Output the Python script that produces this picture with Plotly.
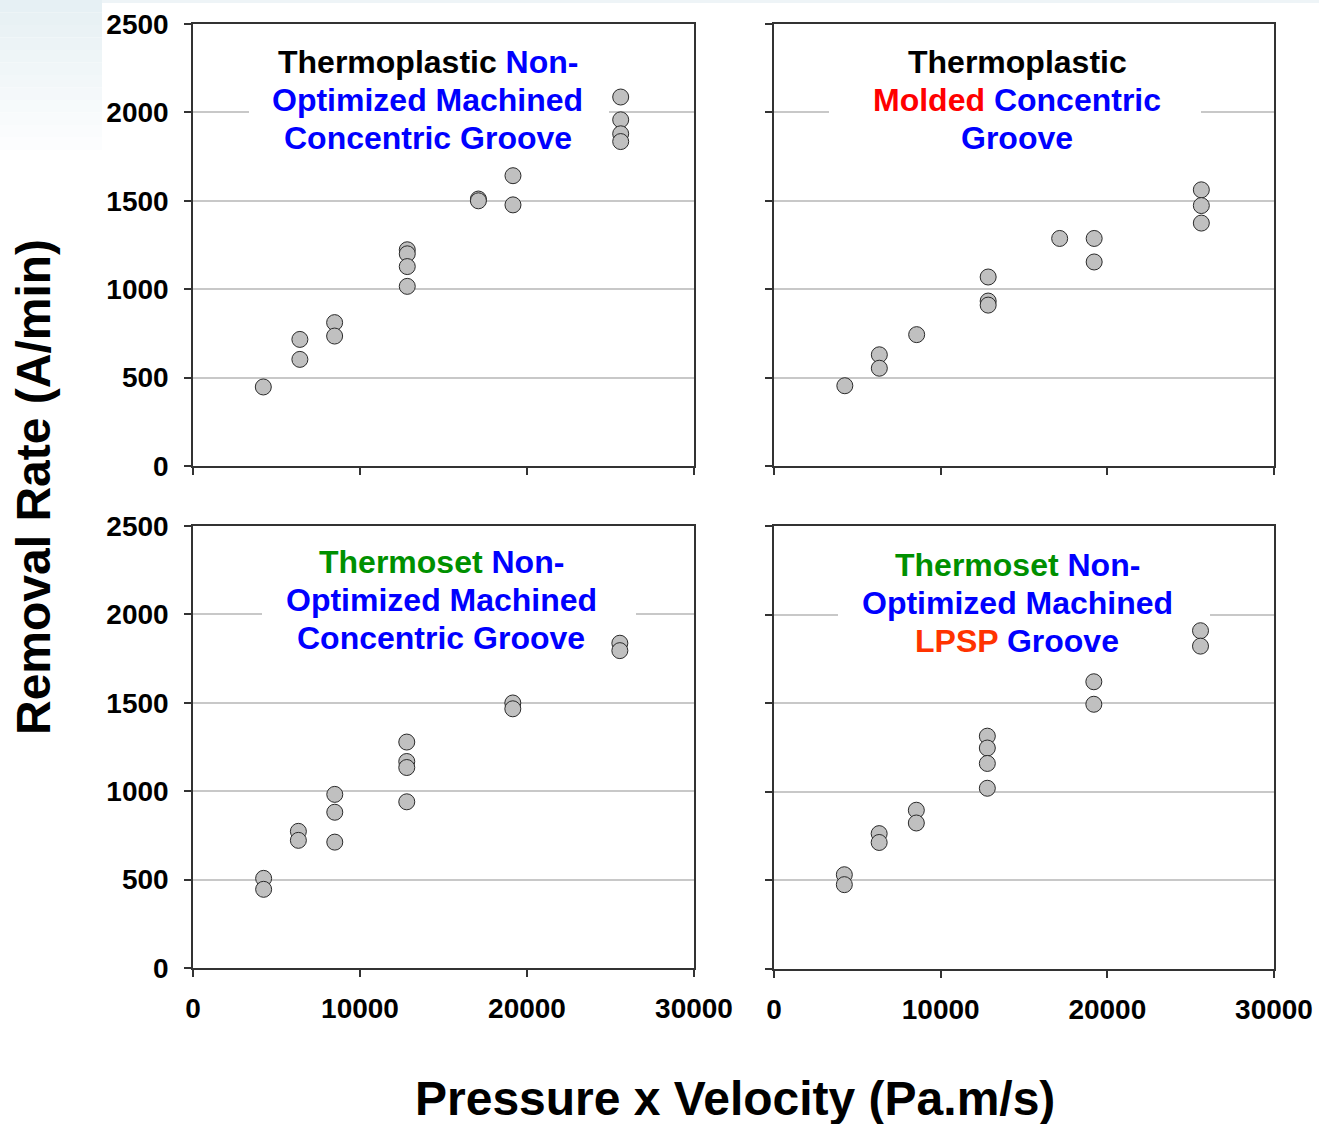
import plotly.graph_objects as go

# ---------------- data ----------------
tl_x = [4210, 6400, 6400, 8480, 8480, 12830, 12830, 12830, 12830, 17090, 17090, 19160, 19160, 25610, 25610, 25610, 25610]
tl_y = [447, 716, 603, 811, 735, 1223, 1200, 1128, 1016, 1510, 1500, 1642, 1477, 2087, 1958, 1879, 1835]

tr_x = [4250, 6320, 6320, 8560, 12850, 12850, 12850, 17140, 19210, 19210, 25640, 25640, 25640]
tr_y = [454, 629, 553, 743, 1069, 933, 910, 1287, 1287, 1154, 1562, 1473, 1374]

bl_x = [4230, 4230, 6310, 6310, 8490, 8490, 8490, 12800, 12800, 12800, 12800, 19150, 19150, 25560, 25560]
bl_y = [507, 445, 773, 722, 982, 881, 712, 1278, 1168, 1134, 940, 1499, 1466, 1837, 1795]

br_x = [4220, 4220, 6310, 6310, 8540, 8540, 12800, 12800, 12800, 12800, 19190, 19190, 25590, 25590]
br_y = [532, 476, 764, 714, 896, 824, 1314, 1247, 1160, 1020, 1621, 1494, 1909, 1822]

x_ticks = [0, 10000, 20000, 30000]
y_ticks = [0, 500, 1000, 1500, 2000, 2500]

BLUE = "#0000FF"
BLACK = "#000000"
RED = "#FF0000"
GREEN = "#009000"
ORANGE = "#FF3300"

titles = [
    [[("Thermoplastic ", BLACK), ("Non-", BLUE)],
     [("Optimized Machined", BLUE)],
     [("Concentric Groove", BLUE)]],
    [[("Thermoplastic", BLACK)],
     [("Molded ", RED), ("Concentric", BLUE)],
     [("Groove", BLUE)]],
    [[("Thermoset ", GREEN), ("Non-", BLUE)],
     [("Optimized Machined", BLUE)],
     [("Concentric Groove", BLUE)]],
    [[("Thermoset ", GREEN), ("Non-", BLUE)],
     [("Optimized Machined", BLUE)],
     [("LPSP ", ORANGE), ("Groove", BLUE)]],
]

# ---------------- layout helpers ----------------
W, H = 1319, 1124
FONT = "Liberation Sans, Arial, sans-serif"
XR = [0, 30000]
YR = [0, 2500]


def fx(p):
    return p / W


def fy(p):
    return 1 - p / H


# panel pixel boxes: (left, right, top, bottom)
panels = [
    (193, 694, 24, 466),
    (774, 1274, 24, 466),
    (193, 694, 526, 968),
    (774, 1274, 526, 969),
]
# title pixel layout: center x, line centers y, white box (x0, x1, y0, y1)
title_pos = [
    (428, [62, 100, 138], (249, 609, 40, 158)),
    (1017, [62, 100, 138], (829, 1201, 40, 158)),
    (441, [562, 600, 638], (262, 636, 540, 660)),
    (1017, [565, 603, 641], (838, 1210, 542, 662)),
]

datasets = [(tl_x, tl_y), (tr_x, tr_y), (bl_x, bl_y), (br_x, br_y)]

fig = go.Figure()

for i, (xs, ys) in enumerate(datasets):
    n = "" if i == 0 else str(i + 1)
    fig.add_trace(go.Scatter(
        x=xs, y=ys, mode="markers", xaxis="x" + n, yaxis="y" + n,
        marker=dict(size=16, color="#c0c0c0", line=dict(color="#2a2a2a", width=1)),
        showlegend=False, hoverinfo="x+y",
    ))

layout = dict(
    width=W, height=H, autosize=False, margin=dict(l=0, r=0, t=0, b=0, pad=0),
    paper_bgcolor="white", plot_bgcolor="white",
    font=dict(family=FONT, color="black"),
)

for i, (l, r, t, b) in enumerate(panels):
    n = "" if i == 0 else str(i + 1)
    left_col = i in (0, 2)
    bottom_row = i in (2, 3)
    layout["xaxis" + n] = dict(
        domain=[fx(l), fx(r)], range=XR, anchor="y" + n, automargin=False,
        tickvals=x_ticks, ticktext=[str(v) for v in x_ticks],
        showticklabels=bottom_row, ticks="outside", ticklen=7, tickwidth=1.5,
        tickcolor="#333333", showline=True, linecolor="#333333", linewidth=1.5,
        mirror=True, showgrid=False, zeroline=False,
        tickfont=dict(family=FONT, size=28, color="black", weight="bold"),
        ticklabelstandoff=8,
    )
    layout["yaxis" + n] = dict(
        domain=[fy(b), fy(t)], range=YR, anchor="x" + n, automargin=False,
        tickvals=y_ticks, ticktext=[str(v) for v in y_ticks],
        showticklabels=left_col, ticks="outside", ticklen=7, tickwidth=1.5,
        tickcolor="#333333", showline=True, linecolor="#333333", linewidth=1.5,
        mirror=True, showgrid=True, gridcolor="#c8c8c8", gridwidth=1.5,
        zeroline=False,
        tickfont=dict(family=FONT, size=28, color="black", weight="bold"),
        ticklabelstandoff=10,
    )

fig.update_layout(**layout)

shapes = []
# light gradient in top-left corner and thin top band
steps = 12
for k in range(steps):
    y0 = k * 150 / steps
    y1 = (k + 1) * 150 / steps
    f = k / steps
    c0 = (230, 240, 244)
    col = tuple(int(c0[j] + (255 - c0[j]) * f) for j in range(3))
    shapes.append(dict(type="rect", xref="paper", yref="paper", layer="below",
                       x0=0, x1=fx(102), y0=fy(y1), y1=fy(y0),
                       fillcolor="rgb(%d,%d,%d)" % col, line=dict(width=0)))
shapes.append(dict(type="rect", xref="paper", yref="paper", layer="below",
                   x0=fx(102), x1=1, y0=fy(3), y1=1,
                   fillcolor="#eef4f7", line=dict(width=0)))

annotations = []
for i, ((l, r, t, b), (cx, lines_y, box)) in enumerate(zip(panels, title_pos)):
    n = "" if i == 0 else str(i + 1)
    bx0, bx1, by0, by1 = box
    # white box behind the title, between gridlines and markers (axis units)
    shapes.append(dict(
        type="rect", xref="x" + n, yref="y" + n, layer="between",
        x0=XR[0] + (bx0 - l) / (r - l) * (XR[1] - XR[0]),
        x1=XR[0] + (bx1 - l) / (r - l) * (XR[1] - XR[0]),
        y0=YR[0] + (b - by1) / (b - t) * (YR[1] - YR[0]),
        y1=YR[0] + (b - by0) / (b - t) * (YR[1] - YR[0]),
        fillcolor="white", line=dict(width=0)))
    for parts, ly in zip(titles[i], lines_y):
        txt = "".join('<span style="color:%s">%s</span>' % (c, s) for s, c in parts)
        annotations.append(dict(
            text=txt, xref="paper", yref="paper", x=fx(cx), y=fy(ly),
            xanchor="center", yanchor="middle", showarrow=False,
            font=dict(family=FONT, size=32, weight="bold")))

annotations.append(dict(
    text="Removal Rate (A/min)", xref="paper", yref="paper", x=fx(33), y=fy(487),
    xanchor="center", yanchor="middle", textangle=-90, showarrow=False,
    font=dict(family=FONT, size=48, color="black", weight="bold")))
annotations.append(dict(
    text="Pressure x Velocity (Pa.m/s)", xref="paper", yref="paper", x=fx(735), y=fy(1098),
    xanchor="center", yanchor="middle", showarrow=False,
    font=dict(family=FONT, size=48, color="black", weight="bold")))

fig.update_layout(shapes=shapes, annotations=annotations)

fig.write_html("out.html", config={"displayModeBar": False},
               post_script="document.body.style.margin='0';")
